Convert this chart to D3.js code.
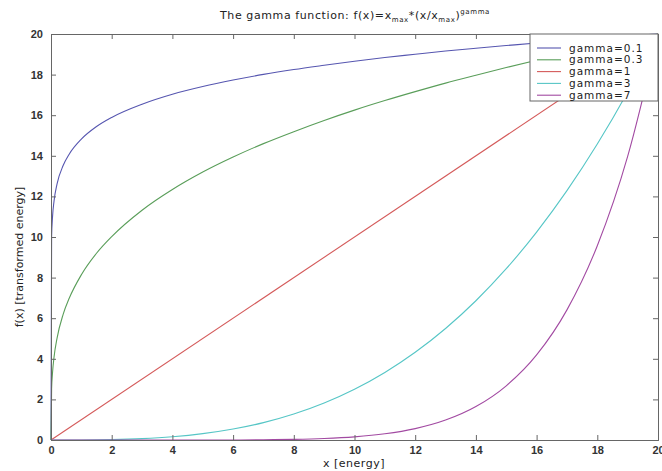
<!DOCTYPE html>
<html>
<head>
<meta charset="utf-8">
<script src="https://cdn.jsdelivr.net/npm/d3@7"></script>
<style>
  body { margin: 0; background: #fff; }
  svg { font-family: "DejaVu Sans", sans-serif; }
</style>
</head>
<body>
<svg id="chart" width="662" height="471"></svg>
<script>
// ---- data ----
const xTicks = [0, 2, 4, 6, 8, 10, 12, 14, 16, 18, 20];
const yTicks = [0, 2, 4, 6, 8, 10, 12, 14, 16, 18, 20];
const seriesNames = ["gamma=0.1", "gamma=0.3", "gamma=1", "gamma=3", "gamma=7"];
const seriesColors = ["#5656b0", "#5a9e5a", "#d45a5a", "#56c6c6", "#a24aa2"];

const xLow = [0, 0.02, 0.05, 0.1, 0.2, 0.4, 0.6, 1, 1.5, 2, 3, 4, 5, 6, 7, 8, 9, 10, 11, 12, 13, 14, 15, 16, 17, 18, 19, 20];
const gamma01 = [0, 10.02, 10.99, 11.77, 12.62, 13.52, 14.08, 14.82, 15.44, 15.89, 16.54, 17.03, 17.41, 17.73, 18.01, 18.25, 18.46, 18.66, 18.84, 19.00, 19.16, 19.30, 19.43, 19.56, 19.68, 19.79, 19.90, 20];
const gamma03 = [0, 2.52, 3.31, 4.08, 5.02, 6.19, 6.98, 8.14, 9.20, 10.02, 11.32, 12.34, 13.20, 13.94, 14.60, 15.19, 15.74, 16.25, 16.72, 17.16, 17.58, 17.97, 18.35, 18.71, 19.05, 19.38, 19.69, 20];

const xLin = [0, 20];
const gamma1 = [0, 20];

const xHigh = [0, 1, 2, 3, 4, 5, 6, 7, 8, 9, 10, 11, 12, 13, 14, 15, 16, 17, 18, 19, 20];
const gamma3 = [0, 0.0025, 0.02, 0.0675, 0.16, 0.3125, 0.54, 0.8575, 1.28, 1.8225, 2.5, 3.3275, 4.32, 5.4925, 6.86, 8.4375, 10.24, 12.2825, 14.58, 17.1475, 20];
const gamma7 = [0, 0, 0, 0, 0, 0.0001, 0.0009, 0.0129, 0.0328, 0.0747, 0.156, 0.304, 0.560, 0.980, 1.647, 2.67, 4.19, 6.41, 9.57, 13.97, 20];

const seriesX = [xLow, xLow, xLin, xHigh, xHigh];
const seriesY = [gamma01, gamma03, gamma1, gamma3, gamma7];

// ---- layout ----
const svg = d3.select("#chart");
const L = 51, R = 658, T = 34, B = 440;
const x = d3.scaleLinear().domain([0, 20]).range([L, R]);
const y = d3.scaleLinear().domain([0, 20]).range([B, T]);

// lines
const line = d3.line().curve(d3.curveMonotoneX);
seriesY.forEach((ys, i) => {
  const pts = ys.map((v, j) => [x(seriesX[i][j]), y(v)]);
  svg.append("path")
    .attr("d", line(pts))
    .attr("fill", "none")
    .attr("stroke", seriesColors[i])
    .attr("stroke-width", 1.1);
});

// axes (ticks inward, box)
const axisColor = "#666";
const tickLen = 5;
const axB = svg.append("g").attr("transform", `translate(0,${B})`)
  .call(d3.axisBottom(x).tickValues(xTicks).tickSize(-tickLen).tickPadding(6).tickFormat(d3.format("d")));
const axT = svg.append("g").attr("transform", `translate(0,${T})`)
  .call(d3.axisTop(x).tickValues(xTicks).tickSize(-tickLen).tickFormat(""));
const axL = svg.append("g").attr("transform", `translate(${L},0)`)
  .call(d3.axisLeft(y).tickValues(yTicks).tickSize(-tickLen).tickPadding(8).tickFormat(d3.format("d")));
const axR = svg.append("g").attr("transform", `translate(${R},0)`)
  .call(d3.axisRight(y).tickValues(yTicks).tickSize(-tickLen).tickFormat(""));
[axB, axT, axL, axR].forEach(g => {
  g.selectAll(".domain").attr("stroke", axisColor).attr("stroke-width", 1);
  g.selectAll(".tick line").attr("stroke", axisColor);
  g.selectAll("text").attr("font-size", 11).attr("font-weight", "bold").attr("fill", "#333")
    .attr("font-family", "'Liberation Sans', Arial, sans-serif");
});

// title
const title = svg.append("text")
  .attr("x", 355).attr("y", 19)
  .attr("text-anchor", "middle")
  .attr("font-size", 11)
  .attr("letter-spacing", 0.6)
  .attr("fill", "#222");
title.append("tspan").text("The gamma function: f(x)=x");
title.append("tspan").text("max").attr("font-size", 7).attr("dy", 3);
title.append("tspan").text("*(x/x").attr("dy", -3);
title.append("tspan").text("max").attr("font-size", 7).attr("dy", 3);
title.append("tspan").text(")").attr("dy", -3);
title.append("tspan").text("gamma").attr("font-size", 7).attr("dy", -5);

// axis labels
svg.append("text")
  .attr("x", 354).attr("y", 467)
  .attr("text-anchor", "middle")
  .attr("font-size", 11)
  .attr("letter-spacing", 0.5)
  .attr("fill", "#222")
  .text("x [energy]");
svg.append("text")
  .attr("transform", `translate(23,257) rotate(-90)`)
  .attr("text-anchor", "middle")
  .attr("font-size", 11)
  .attr("fill", "#222")
  .text("f(x) [transformed energy]");

// legend
const lg = svg.append("g");
lg.append("rect")
  .attr("x", 530).attr("y", T).attr("width", R - 530).attr("height", 67)
  .attr("fill", "#fff").attr("stroke", axisColor).attr("stroke-width", 1);
seriesNames.forEach((name, i) => {
  const yy = T + 14 + i * 11.8;
  lg.append("line")
    .attr("x1", 537).attr("x2", 561).attr("y1", yy).attr("y2", yy)
    .attr("stroke", seriesColors[i]).attr("stroke-width", 1.1);
  lg.append("text")
    .attr("x", 569).attr("y", yy + 3.5)
    .attr("font-size", 10.5)
    .attr("letter-spacing", 1)
    .attr("fill", "#222")
    .text(name);
});
</script>
</body>
</html>
